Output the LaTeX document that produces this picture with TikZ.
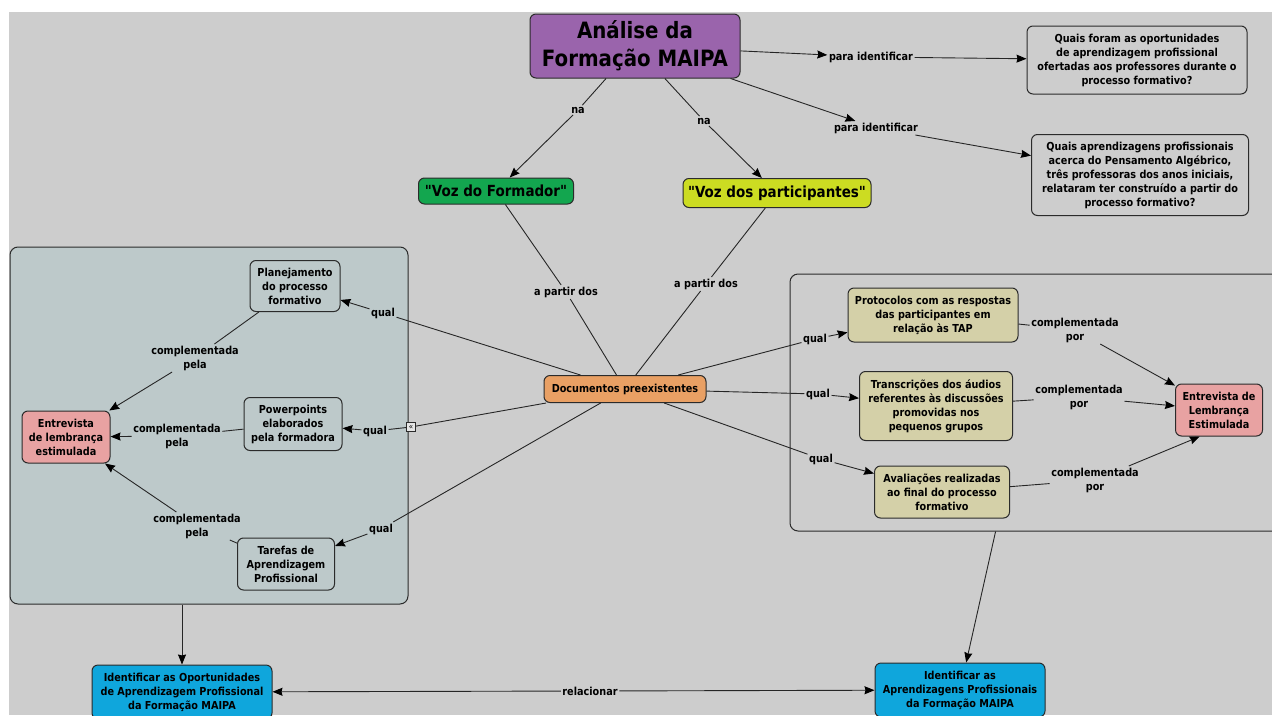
\documentclass[tikz,border=0pt]{standalone}
\usepackage{fontspec}
\newfontfamily\mapfont{DejaVu Sans}[FakeStretch=0.88]
\usepackage{tikz}
\usetikzlibrary{arrows.meta}

\definecolor{bgGray}{HTML}{CDCDCD}
\definecolor{panelGray}{HTML}{BDC9CA}
\definecolor{titlePurple}{HTML}{9A64AC}
\definecolor{vozGreen}{HTML}{13A64F}
\definecolor{vozYellow}{HTML}{CCDC22}
\definecolor{docOrange}{HTML}{E9A064}
\definecolor{entPink}{HTML}{E8A2A2}
\definecolor{srcKhaki}{HTML}{D4D0A8}
\definecolor{goalBlue}{HTML}{0FA6DC}
\definecolor{inkGray}{HTML}{2B2B2B}

\begin{document}
\begin{tikzpicture}[x=1pt, y=-1pt,
		concept/.style={draw=inkGray, line width=1pt, rounded corners=6pt, align=center, inner sep=2pt},
		panel/.style={draw=inkGray, line width=1pt, rounded corners=8pt, inner sep=0pt},
		phrase/.style={align=center, inner sep=1.5pt}]
	\useasboundingbox (0,0) rectangle (1272,715);
	\fill[white] (0,0) rectangle (1272,715);
	\fill[bgGray] (9,12) rectangle (1272,715);

	\node[panel, fill=panelGray, minimum width=398, minimum height=357] (leftPanel) at (209,425.5) {};
	\node[panel, minimum width=500, minimum height=257] (rightPanel) at (1040,402.5) {};

	\begin{scope}[every node/.style={font=\mapfont\bfseries\fontsize{11}{14}\selectfont}]
		\node[concept, fill=titlePurple, minimum width=210, minimum height=64,
			font=\mapfont\bfseries\fontsize{22.5}{28}\selectfont] (title) at (635,46) {Análise da\\Formação MAIPA};
		\node[concept, fill=vozGreen, minimum width=155, minimum height=26,
			font=\mapfont\bfseries\fontsize{15.3}{18}\selectfont] (vozF) at (496,191) {"Voz do Formador"};
		\node[concept, fill=vozYellow, minimum width=188, minimum height=29,
			font=\mapfont\bfseries\fontsize{15.3}{18}\selectfont] (vozP) at (777,193) {"Voz dos participantes"};
		\node[concept, minimum width=220, minimum height=68] (q1) at (1137,60)
			{Quais foram as oportunidades\\de aprendizagem profissional\\ofertadas aos professores durante o\\processo formativo?};
		\node[concept, minimum width=217, minimum height=81] (q2) at (1140,175)
			{Quais aprendizagens profissionais\\acerca do Pensamento Algébrico,\\três professoras dos anos iniciais,\\relataram ter construído a partir do\\processo formativo?};
		\node[concept, fill=docOrange, minimum width=162, minimum height=27] (docs) at (625,389) {Documentos preexistentes};

		% formador
		\node[concept, minimum width=90, minimum height=51] (plan) at (295,286) {Planejamento\\do processo\\formativo};
		\node[concept, minimum width=98, minimum height=53] (power) at (293,424) {Powerpoints\\elaborados\\pela formadora};
		\node[concept, minimum width=97, minimum height=52] (tarefas) at (286,564) {Tarefas de\\Aprendizagem\\Profissional};
		\node[concept, fill=entPink, minimum width=88, minimum height=52] (entL) at (66,437) {Entrevista\\de lembrança\\estimulada};

		% participantes
		\node[concept, fill=srcKhaki, minimum width=170, minimum height=54] (prot) at (933,315)
			{Protocolos com as respostas\\das participantes em\\relação às TAP};
		\node[concept, fill=srcKhaki, minimum width=153, minimum height=69] (trans) at (936,406)
			{Transcrições dos áudios\\referentes às discussões\\promovidas nos\\pequenos grupos};
		\node[concept, fill=srcKhaki, minimum width=135, minimum height=52] (aval) at (942,492)
			{Avaliações realizadas\\ao final do processo\\formativo};
		\node[concept, fill=entPink, minimum width=87, minimum height=52] (entR) at (1219,410) {Entrevista de\\Lembrança\\Estimulada};

		\node[concept, fill=goalBlue, minimum width=180, minimum height=54] (idL) at (182,692)
			{Identificar as Oportunidades\\de Aprendizagem Profissional\\da Formação MAIPA};
		\node[concept, fill=goalBlue, minimum width=170, minimum height=54] (idR) at (960,690)
			{Identificar as\\Aprendizagens Profissionais\\da Formação MAIPA};

		\node[draw=inkGray, fill=bgGray!50!white, inner sep=0pt, minimum size=9,
			font=\mapfont\fontsize{8}{8}\selectfont] (fold) at (411,427) {«};

		% linking phrases
		\node[phrase] (na1) at (578,110) {na};
		\node[phrase] (na2) at (704,121) {na};
		\node[phrase] (pi1) at (871,57) {para identificar};
		\node[phrase] (pi2) at (876,128) {para identificar};
		\node[phrase] (ap1) at (566,292) {a partir dos};
		\node[phrase] (ap2) at (706,284) {a partir dos};
		\node[phrase] (qL1) at (383,313) {qual};
		\node[phrase] (qL2) at (375,431) {qual};
		\node[phrase] (qL3) at (381,529) {qual};
		\node[phrase] (cL1) at (195,358) {complementada\\pela};
		\node[phrase] (cL2) at (177,436) {complementada\\pela};
		\node[phrase] (cL3) at (197,526) {complementada\\pela};
		\node[phrase] (qR1) at (815,339) {qual};
		\node[phrase] (qR2) at (818,394) {qual};
		\node[phrase] (qR3) at (821,459) {qual};
		\node[phrase] (cR1) at (1075,330) {complementada\\por};
		\node[phrase] (cR2) at (1079,397) {complementada\\por};
		\node[phrase] (cR3) at (1095,480) {complementada\\por};
		\node[phrase] (rel) at (590,691) {relacionar};
	\end{scope}

	\begin{scope}[>={Stealth[black, length=10pt, width=8pt, inset=1pt]},
			every edge/.style={draw=black!85, line width=0.9pt}]
		\path (title) edge (na1);
		\path [->] (na1) edge (vozF);
		\path (title) edge (na2);
		\path [->] (na2) edge (vozP);
		\path [->] (title) edge (pi1);
		\path [->] (pi1) edge (q1);
		\path [->] (title) edge (pi2);
		\path [->] (pi2) edge (q2);
		\path (vozF) edge (ap1);
		\path (ap1) edge (docs);
		\path (vozP) edge (ap2);
		\path (ap2) edge (docs);

		\path (docs) edge (qL1);
		\path [->] (qL1) edge (plan);
		\path (docs) edge (fold);
		\path (fold) edge (qL2);
		\path [->] (qL2) edge (power);
		\path (docs) edge (qL3);
		\path [->] (qL3) edge (tarefas);
		\path (plan) edge (cL1);
		\path [->] (cL1) edge (entL);
		\path (power) edge (cL2);
		\path [->] (cL2) edge (entL);
		\path (tarefas) edge (cL3);
		\path [->] (cL3) edge (entL);

		\path (docs) edge (qR1);
		\path [->] (qR1) edge (prot);
		\path (docs) edge (qR2);
		\path [->] (qR2) edge (trans);
		\path (docs) edge (qR3);
		\path [->] (qR3) edge (aval);
		\path (prot) edge (cR1);
		\path [->] (cR1) edge (entR);
		\path (trans) edge (cR2);
		\path [->] (cR2) edge (entR);
		\path (aval) edge (cR3);
		\path [->] (cR3) edge (entR.234);

		\path [->] (leftPanel.south -| idL.north) edge (idL);
		\path [->] (rightPanel.251) edge (idR);
		\path [->] (rel) edge (idL);
		\path [->] (rel) edge (idR);
	\end{scope}
\end{tikzpicture}
\end{document}
